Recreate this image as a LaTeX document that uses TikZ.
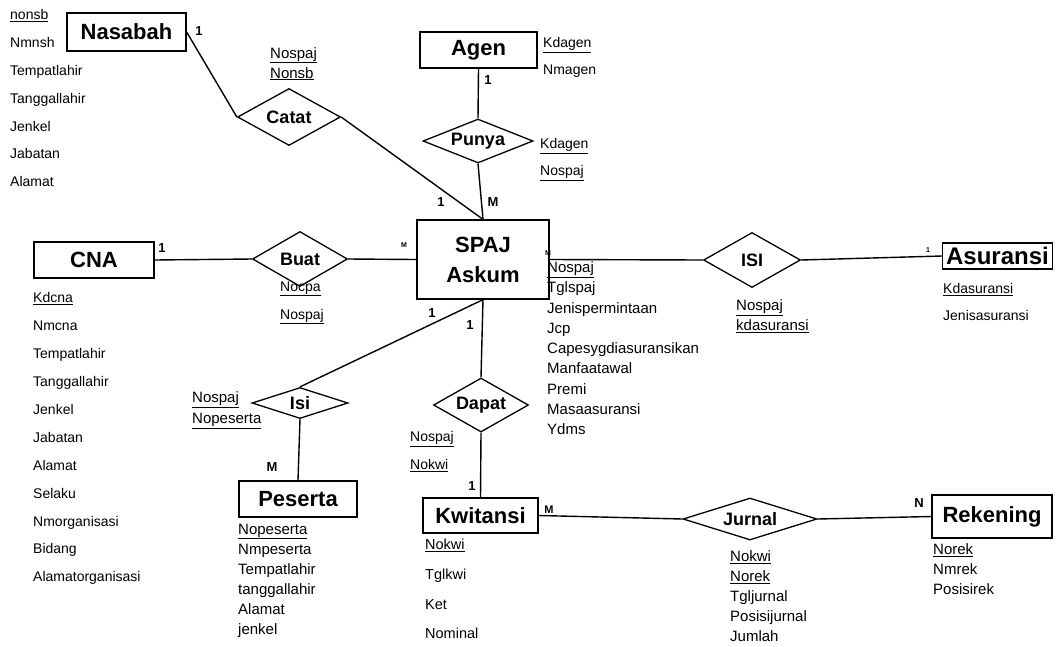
\documentclass[tikz,border=0pt]{standalone}
\usepackage{fontspec}
\setmainfont{Liberation Sans}
\usetikzlibrary{shapes.geometric}
\newcommand{\fs}[2]{\fontsize{#1}{#2}\selectfont}
\tikzset{
  entity/.style={draw, line width=1.3pt, inner sep=0pt, align=center, font=\bfseries\fs{22}{30}},
  relasi/.style={diamond, draw, line width=1.3pt, inner sep=0pt, font=\bfseries\fs{18}{20}},
  attr/.style={anchor=north west, inner sep=0pt, align=left},
  card/.style={inner sep=0pt, font=\bfseries\fs{13}{15}},
  tiny card/.style={inner sep=0pt, font=\bfseries\fs{7}{8}},
  link/.style={line width=1.4pt}
}

\begin{document}
\begin{tikzpicture}[x=1pt,y=-1pt]
  \useasboundingbox (0,0) rectangle (1057,646);

  % Entitas
  \node[entity, minimum width=119, minimum height=38] (nasabah) at (126.5,32) {Nasabah};
  \node[entity, minimum width=117, minimum height=36] (agen) at (478.5,50) {Agen};
  \node[entity, minimum width=132, minimum height=79] (spaj) at (483,259.5) {SPAJ\\Askum};
  \node[entity, minimum width=120, minimum height=36] (cna) at (94,260) {CNA};
  \node[entity, minimum width=110, minimum height=26, font=\bfseries\fs{24}{26}] (asuransi) at (997.5,256) {Asuransi};
  \node[entity, minimum width=118, minimum height=36] (peserta) at (298,499) {Peserta};
  \node[entity, minimum width=115, minimum height=35] (kwitansi) at (480.5,515.5) {Kwitansi};
  \node[entity, minimum width=120, minimum height=43] (rekening) at (992,516.5) {Rekening};

  % Relasi
  \node[relasi, aspect=1.8, minimum width=103, minimum height=57] (catat) at (289,117) {Catat};
  \node[relasi, aspect=2.5, minimum width=110, minimum height=44] (punya) at (478,141) {Punya};
  \node[relasi, aspect=1.7, minimum width=95, minimum height=55] (buat) at (300,259) {Buat};
  \node[relasi, aspect=1.8, minimum width=97, minimum height=55] (isiasr) at (752,260) {ISI};
  \node[relasi, aspect=3.1, minimum width=96, minimum height=31] (isi) at (300,403) {Isi};
  \node[relasi, aspect=1.76, minimum width=95, minimum height=54] (dapat) at (481,405) {Dapat};
  \node[relasi, aspect=3.2, minimum width=134, minimum height=42] (jurnal) at (750,519) {Jurnal};

  % Garis
  \draw[link] (nasabah.east) -- (catat.west);
  \draw[link] (catat.east) -- (spaj.north);
  \draw[link] (agen.south) -- (punya.north);
  \draw[link] (punya.south) -- (spaj.north);
  \draw[link] (cna.east) -- (buat.west);
  \draw[link] (buat.east) -- (spaj.west);
  \draw[link] (spaj.east) -- (isiasr.west);
  \draw[link] (isiasr.east) -- (asuransi.west);
  \draw[link] (spaj.south) -- (isi.north);
  \draw[link] (isi.south) -- (peserta.north);
  \draw[link] (spaj.south) -- (dapat.north);
  \draw[link] (dapat.south) -- (kwitansi.north);
  \draw[link] (kwitansi.east) -- (jurnal.west);
  \draw[link] (jurnal.east) -- (rekening.west);

  % Kardinalitas
  \node[card] (k-nasabah) at (199,31) {1};
  \node[card] (k-agen) at (488,80) {1};
  \node[card] (k-catat) at (441,202) {1};
  \node[card] (k-punya) at (493,202) {M};
  \node[card] (k-cna) at (162,248) {1};
  \node[tiny card] (k-buat) at (404,245) {M};
  \node[tiny card] (k-isiasr) at (548,253) {M};
  \node[tiny card] (k-asuransi) at (928,250) {1};
  \node[card] (k-isi) at (432,313) {1};
  \node[card] (k-dapat) at (470,325) {1};
  \node[card] (k-peserta) at (272,467) {M};
  \node[card] (k-kwitansi) at (472,486) {1};
  \node[card, font=\bfseries\fs{11}{13}] (k-jurnal) at (549,510) {M};
  \node[card] (k-rekening) at (919,503) {N};

  % Atribut
  \node[attr, font=\fs{14}{27.8}] (a-nasabah) at (10,9.5) {\underline{nonsb}\\Nmnsh\\Tempatlahir\\Tanggallahir\\Jenkel\\Jabatan\\Alamat};
  \node[attr, font=\fs{15}{20}] (a-catat) at (270,47) {\underline{Nospaj}\\\underline{Nonsb}};
  \node[attr, font=\fs{14}{27}] (a-agen) at (543,37.5) {\underline{Kdagen}\\Nmagen};
  \node[attr, font=\fs{14}{27}] (a-punya) at (540,138.5) {\underline{Kdagen}\\\underline{Nospaj}};
  \node[attr, font=\fs{14}{27.9}] (a-cna) at (33,292.5) {\underline{Kdcna}\\Nmcna\\Tempatlahir\\Tanggallahir\\Jenkel\\Jabatan\\Alamat\\Selaku\\Nmorganisasi\\Bidang\\Alamatorganisasi};
  \node[attr, font=\fs{14}{28}] (a-buat) at (280,281.5) {\underline{Nocpa}\\\underline{Nospaj}};
  \node[attr, font=\fs{15}{20.25}] (a-spaj) at (547,261.5) {\underline{Nospaj}\\Tglspaj\\Jenispermintaan\\Jcp\\Capesygdiasuransikan\\Manfaatawal\\Premi\\Masaasuransi\\Ydms};
  \node[attr, font=\fs{15}{20}] (a-isiasr) at (736,299.5) {\underline{Nospaj}\\\underline{kdasuransi}};
  \node[attr, font=\fs{14}{27}] (a-asuransi) at (943,283.5) {\underline{Kdasuransi}\\Jenisasuransi};
  \node[attr, font=\fs{15}{21}] (a-isi) at (192,391.5) {\underline{Nospaj}\\\underline{Nopeserta}};
  \node[attr, font=\fs{15}{20}] (a-peserta) at (238,523.5) {\underline{Nopeserta}\\Nmpeserta\\Tempatlahir\\tanggallahir\\Alamat\\jenkel};
  \node[attr, font=\fs{14}{28}] (a-dapat) at (410,431.5) {\underline{Nospaj}\\\underline{Nokwi}};
  \node[attr, font=\fs{14.5}{29.7}] (a-kwitansi) at (425,539) {\underline{Nokwi}\\Tglkwi\\Ket\\Nominal};
  \node[attr, font=\fs{15}{20}] (a-jurnal) at (730,550.5) {\underline{Nokwi}\\\underline{Norek}\\Tgljurnal\\Posisijurnal\\Jumlah};
  \node[attr, font=\fs{15}{20}] (a-rekening) at (933,543.5) {\underline{Norek}\\Nmrek\\Posisirek};
\end{tikzpicture}
\end{document}
